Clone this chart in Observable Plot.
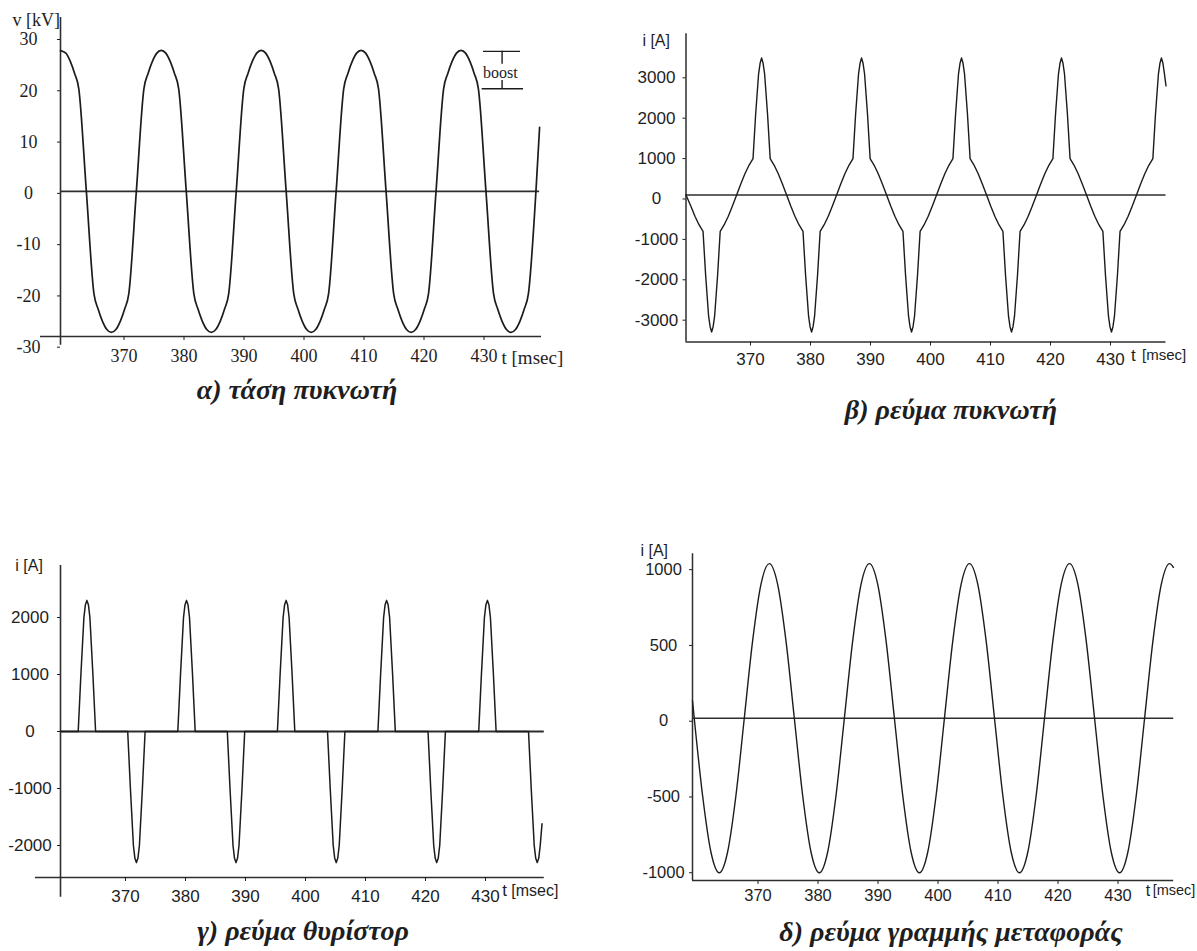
<!DOCTYPE html>
<html><head><meta charset="utf-8">
<script src="https://cdn.jsdelivr.net/npm/d3@7"></script>
<script src="https://cdn.jsdelivr.net/npm/@observablehq/plot@0.6"></script>
<style>
body{margin:0;background:#fff;}
#root{position:relative;width:1197px;height:951px;overflow:hidden;background:#fff}
.panel{position:absolute}
.cap{position:absolute;font-family:"Liberation Serif","Times New Roman",serif;font-weight:bold;font-style:italic;font-size:28px;line-height:1.1;color:#1e1e1e;white-space:nowrap;transform:translate(-50%,-50%)}
</style></head><body><div id="root"></div>
<script>
// ---------- shared ----------
const xTicks = [370, 380, 390, 400, 410, 420, 430];
const xLabel = "t [msec]";
const captions = ["α) τάση πυκνωτή", "β) ρεύμα πυκνωτή", "γ) ρεύμα θυρίστορ", "δ) ρεύμα γραμμής μεταφοράς"];
const yLabels = ["v [kV]", "i [A]", "i [A]", "i [A]"];

// ---------- (a) capacitor voltage, kV ----------
const yTicksA = [-30, -20, -10, 0, 10, 20, 30];
const tA = [360.00, 360.90, 361.65, 362.35, 363.05, 364.31,
  365.58, 366.28, 366.98, 367.73, 368.48, 369.23, 369.98, 370.68, 371.38, 372.64,
  373.90, 374.60, 375.30, 376.05, 376.80, 377.55, 378.30, 379.00, 379.70, 380.96,
  382.23, 382.93, 383.63, 384.38, 385.13, 385.88, 386.63, 387.33, 388.03, 389.29,
  390.55, 391.25, 391.95, 392.70, 393.45, 394.20, 394.95, 395.65, 396.35, 397.61,
  398.88, 399.58, 400.28, 401.03, 401.78, 402.53, 403.28, 403.98, 404.68, 405.94,
  407.20, 407.90, 408.60, 409.35, 410.10, 410.85, 411.60, 412.30, 413.00, 414.26,
  415.53, 416.23, 416.93, 417.68, 418.43, 419.18, 419.93, 420.63, 421.33, 422.59,
  423.85, 424.55, 425.25, 426.00, 426.75, 427.50, 428.25, 428.95, 429.65, 430.91,
  432.18, 432.88, 433.58, 434.33, 435.08, 435.83, 436.58, 437.28, 437.98, 439.24,
  439.85];
const vA = [27.45, 26.95, 25.3, 23.0, 20, 0,
  -20, -23.0, -25.3, -26.95, -27.5, -26.95, -25.3, -23.0, -20, 0,
  20, 23.0, 25.3, 26.95, 27.5, 26.95, 25.3, 23.0, 20, 0,
  -20, -23.0, -25.3, -26.95, -27.5, -26.95, -25.3, -23.0, -20, 0,
  20, 23.0, 25.3, 26.95, 27.5, 26.95, 25.3, 23.0, 20, 0,
  -20, -23.0, -25.3, -26.95, -27.5, -26.95, -25.3, -23.0, -20, 0,
  20, 23.0, 25.3, 26.95, 27.5, 26.95, 25.3, 23.0, 20, 0,
  -20, -23.0, -25.3, -26.95, -27.5, -26.95, -25.3, -23.0, -20, 0,
  20, 23.0, 25.3, 26.95, 27.5, 26.95, 25.3, 23.0, 20, 0,
  -20, -23.0, -25.3, -26.95, -27.5, -26.95, -25.3, -23.0, -20, 0,
  12.5];
// "boost" annotation (t range, kV levels)
const boostLevels = [27.3, 20];
const boostSpan = [[430.5, 436.67], [430.28, 437.17]];
const boostBar = [[27.3, 24.8], [21.6, 20]];
const boostX = 433.6;

// ---------- (b) capacitor current, A ----------
const yTicksB = [-3000, -2000, -1000, 0, 1000, 2000, 3000];
const tB = [360.00, 360.80, 361.49, 362.19,
  362.84, 363.27, 363.77, 364.02, 364.27, 364.52, 364.77, 365.27, 365.70,
  366.35, 367.05, 367.74, 368.44, 369.13, 369.82, 370.52,
  371.17, 371.60, 372.10, 372.35, 372.60, 372.85, 373.10, 373.60, 374.03,
  374.68, 375.38, 376.07, 376.77, 377.46, 378.15, 378.85,
  379.50, 379.93, 380.43, 380.68, 380.93, 381.18, 381.43, 381.93, 382.36,
  383.01, 383.71, 384.40, 385.10, 385.79, 386.48, 387.18,
  387.83, 388.26, 388.76, 389.01, 389.26, 389.51, 389.76, 390.26, 390.69,
  391.34, 392.04, 392.73, 393.43, 394.12, 394.81, 395.51,
  396.16, 396.59, 397.09, 397.34, 397.59, 397.84, 398.09, 398.59, 399.02,
  399.67, 400.37, 401.06, 401.76, 402.45, 403.14, 403.84,
  404.49, 404.92, 405.42, 405.67, 405.92, 406.17, 406.42, 406.92, 407.35,
  408.00, 408.70, 409.39, 410.09, 410.78, 411.47, 412.17,
  412.82, 413.25, 413.75, 414.00, 414.25, 414.50, 414.75, 415.25, 415.68,
  416.33, 417.03, 417.72, 418.42, 419.11, 419.80, 420.50,
  421.15, 421.58, 422.08, 422.33, 422.58, 422.83, 423.08, 423.58, 424.01,
  424.66, 425.36, 426.05, 426.75, 427.44, 428.13, 428.83,
  429.48, 429.91, 430.41, 430.66, 430.91, 431.16, 431.41, 431.91, 432.34,
  432.99, 433.69, 434.38, 435.08, 435.77, 436.46, 437.16,
  437.81, 438.24, 438.74, 438.99, 439.24, 439.49, 439.74, 440.00];
const iB = [0, -272, -525, -742,
  -900, -1980, -3000, -3260, -3390, -3260, -3000, -1980, -900,
  -742, -525, -272, 0, 272, 525, 742,
  900, 1980, 3000, 3260, 3390, 3260, 3000, 1980, 900,
  742, 525, 272, 0, -272, -525, -742,
  -900, -1980, -3000, -3260, -3390, -3260, -3000, -1980, -900,
  -742, -525, -272, 0, 272, 525, 742,
  900, 1980, 3000, 3260, 3390, 3260, 3000, 1980, 900,
  742, 525, 272, 0, -272, -525, -742,
  -900, -1980, -3000, -3260, -3390, -3260, -3000, -1980, -900,
  -742, -525, -272, 0, 272, 525, 742,
  900, 1980, 3000, 3260, 3390, 3260, 3000, 1980, 900,
  742, 525, 272, 0, -272, -525, -742,
  -900, -1980, -3000, -3260, -3390, -3260, -3000, -1980, -900,
  -742, -525, -272, 0, 272, 525, 742,
  900, 1980, 3000, 3260, 3390, 3260, 3000, 1980, 900,
  742, 525, 272, 0, -272, -525, -742,
  -900, -1980, -3000, -3260, -3390, -3260, -3000, -1980, -900,
  -742, -525, -272, 0, 272, 525, 742,
  900, 1980, 3000, 3260, 3390, 3260, 3000, 2700];

// ---------- (c) thyristor current, A ----------
const yTicksC = [-2000, -1000, 0, 1000, 2000];
const tC = [360.00,
  362.95, 363.40, 363.90, 364.15, 364.40, 364.65, 364.90, 365.40, 365.85,
  371.20, 371.65, 372.15, 372.40, 372.65, 372.90, 373.15, 373.65, 374.10,
  379.55, 380.00, 380.50, 380.75, 381.00, 381.25, 381.50, 382.00, 382.45,
  387.80, 388.25, 388.75, 389.00, 389.25, 389.50, 389.75, 390.25, 390.70,
  396.15, 396.60, 397.10, 397.35, 397.60, 397.85, 398.10, 398.60, 399.05,
  404.50, 404.95, 405.45, 405.70, 405.95, 406.20, 406.45, 406.95, 407.40,
  412.90, 413.35, 413.85, 414.10, 414.35, 414.60, 414.85, 415.35, 415.80,
  421.25, 421.70, 422.20, 422.45, 422.70, 422.95, 423.20, 423.70, 424.15,
  429.70, 430.15, 430.65, 430.90, 431.15, 431.40, 431.65, 432.15, 432.60,
  438.00, 438.45, 438.95, 439.20, 439.45, 439.70, 439.95, 440.25];
const iC = [0,
  0, 1000, 2000, 2225, 2300, 2225, 2000, 1000, 0,
  0, -1000, -2000, -2225, -2300, -2225, -2000, -1000, 0,
  0, 1000, 2000, 2225, 2300, 2225, 2000, 1000, 0,
  0, -1000, -2000, -2225, -2300, -2225, -2000, -1000, 0,
  0, 1000, 2000, 2225, 2300, 2225, 2000, 1000, 0,
  0, -1000, -2000, -2225, -2300, -2225, -2000, -1000, 0,
  0, 1000, 2000, 2225, 2300, 2225, 2000, 1000, 0,
  0, -1000, -2000, -2225, -2300, -2225, -2000, -1000, 0,
  0, 1000, 2000, 2225, 2300, 2225, 2000, 1000, 0,
  0, -1000, -2000, -2225, -2300, -2225, -2000, -1620];

// ---------- (d) line current, A ----------
const yTicksD = [-1000, -500, 0, 500, 1000];
const tD = [360.00, 360.29, 361.68, 363.07, 364.46, 365.85, 367.24, 368.63, 370.02, 371.41,
  372.80, 374.19, 375.58, 376.97, 378.36, 379.75, 381.14, 382.53, 383.92, 385.31,
  386.70, 388.09, 389.48, 390.87, 392.26, 393.65, 395.04, 396.43, 397.82, 399.21,
  400.60, 401.99, 403.38, 404.77, 406.16, 407.55, 408.94, 410.33, 411.72, 413.11,
  414.50, 415.89, 417.28, 418.67, 420.06, 421.45, 422.84, 424.23, 425.62, 427.01,
  428.40, 429.79, 431.18, 432.57, 433.96, 435.35, 436.74, 438.13, 439.52, 440.15];
const iD = [115, 0, -510, -883, -1020, -883, -510, 0, 510, 883,
  1020, 883, 510, 0, -510, -883, -1020, -883, -510, 0,
  510, 883, 1020, 883, 510, 0, -510, -883, -1020, -883,
  -510, 0, 510, 883, 1020, 883, 510, 0, -510, -883,
  -1020, -883, -510, 0, 510, 883, 1020, 883, 510, 0,
  -510, -883, -1020, -883, -510, 0, 510, 883, 1020, 995];

// ---------- build ----------
const zip = (ts, vs) => ts.map((t, i) => ({t, v: vs[i]}));
const ink = "#1c1c1c", axisInk = "#2e2e2e";
const fmt = d => String(d);
const root = document.getElementById("root");

function place(svg, left, top) {
  const div = document.createElement("div");
  div.className = "panel";
  div.style.left = left + "px"; div.style.top = top + "px";
  div.appendChild(svg); root.appendChild(div);
}

// panel a
place(Plot.plot({
  width: 600, height: 380, marginLeft: 60, marginRight: 60, marginTop: 17, marginBottom: 44,
  x: {domain: [360, 440]}, y: {domain: [-28.3, 33.9]},
  style: {fontFamily: "'Liberation Serif', serif", fontSize: "18px", color: "#1e1e1e", background: "transparent", overflow: "visible"},
  marks: [
    Plot.ruleX([360], {y1: -30, y2: 33.9, stroke: axisInk, strokeWidth: 1.6}),
    Plot.ruleY([-28.3], {x1: 356.67, x2: 440.17, stroke: axisInk, strokeWidth: 1.6}),
    Plot.ruleY([0], {x1: 360, x2: 439.85, stroke: axisInk, strokeWidth: 1.6}),
    Plot.axisX(xTicks, {anchor: "bottom", tickSize: 4, tickPadding: 9, dx: 3.5, label: null, tickFormat: fmt}),
    Plot.axisY(yTicksA, {anchor: "left", tickSize: 3, tickPadding: 29, textAnchor: "middle", dy: 2, label: null, tickFormat: fmt}),
    Plot.line(zip(tA, vA), {x: "t", y: "v", curve: "monotone-x", stroke: ink, strokeWidth: 1.7}),
    Plot.ruleY(boostLevels, {y: d => d, x1: (d, i) => boostSpan[i][0], x2: (d, i) => boostSpan[i][1], stroke: ink, strokeWidth: 1.4}),
    Plot.ruleX(boostBar, {x: () => boostX, y1: d => d[0], y2: d => d[1], stroke: ink, strokeWidth: 1.4}),
    Plot.text(["boost"], {x: boostX - 0.3, y: 23.1, fontSize: 16, textAnchor: "middle", lineAnchor: "middle"}),
    Plot.text([yLabels[0]], {frameAnchor: "top-left", dx: -48, dy: 2.5, textAnchor: "start", lineAnchor: "middle", fontSize: 18}),
    Plot.text([xLabel], {frameAnchor: "bottom-right", dx: -39, dy: 21, textAnchor: "start", lineAnchor: "middle", fontSize: 19})
  ]
}), 0, 0);

// panel b
place(Plot.plot({
  width: 597, height: 380, marginLeft: 85.5, marginRight: 31.5, marginTop: 33.3, marginBottom: 38.5,
  x: {domain: [360, 440]}, y: {domain: [-3639, 3990]},
  style: {fontFamily: "'Liberation Sans', sans-serif", fontSize: "17px", color: "#1e1e1e", background: "transparent", overflow: "visible"},
  marks: [
    Plot.ruleX([360], {y1: -3639, y2: 3990, stroke: axisInk, strokeWidth: 1.5}),
    Plot.ruleY([-3639], {x1: 360, x2: 440, stroke: axisInk, strokeWidth: 1.5}),
    Plot.ruleY([0], {x1: 360, x2: 440, stroke: axisInk, strokeWidth: 1.5}),
    Plot.axisX(xTicks, {anchor: "bottom", tickSize: 4, tickPadding: 7, dx: 4.5, label: null, tickFormat: fmt}),
    Plot.axisY(yTicksB, {anchor: "left", tickSize: 3, tickPadding: 26.5, textAnchor: "middle", dy: 4, label: null, tickFormat: fmt}),
    Plot.line(zip(tB, iB), {x: "t", y: "v", stroke: ink, strokeWidth: 1.4}),
    Plot.text([yLabels[1]], {frameAnchor: "top-left", dx: -43.6, dy: 6.7, textAnchor: "start", lineAnchor: "middle", fontSize: 16}),
    Plot.text([xLabel.split(" ")[0]], {frameAnchor: "bottom-right", dx: -35, dy: 14, textAnchor: "start", lineAnchor: "middle", fontSize: 17}),
    Plot.text([xLabel.split(" ")[1]], {frameAnchor: "bottom-right", dx: -24, dy: 13, textAnchor: "start", lineAnchor: "middle", fontSize: 15})
  ]
}), 600, 0);

// panel c
place(Plot.plot({
  width: 600, height: 380, marginLeft: 60, marginRight: 56.2, marginTop: 35, marginBottom: 33,
  x: {domain: [360, 440.63]}, y: {domain: [-2561, 2912]},
  style: {fontFamily: "'Liberation Sans', sans-serif", fontSize: "17px", color: "#1e1e1e", background: "transparent", overflow: "visible"},
  marks: [
    Plot.ruleX([360], {y1: -2907, y2: 2912, stroke: axisInk, strokeWidth: 1.6}),
    Plot.ruleY([-2561], {x1: 355.83, x2: 440.63, stroke: axisInk, strokeWidth: 1.6}),
    Plot.ruleY([0], {x1: 360, x2: 440.63, stroke: axisInk, strokeWidth: 1.8}),
    Plot.axisX(xTicks, {anchor: "bottom", tickSize: 4, tickPadding: 8, dx: 5, label: null, tickFormat: fmt}),
    Plot.axisY(yTicksC, {anchor: "left", tickSize: 3, tickPadding: 27.5, textAnchor: "middle", dy: 0, label: null, tickFormat: fmt}),
    Plot.line(zip(tC, iC), {x: "t", y: "v", stroke: ink, strokeWidth: 1.5}),
    Plot.text([yLabels[2]], {frameAnchor: "top-left", dx: -45.2, dy: 0.7, textAnchor: "start", lineAnchor: "middle", fontSize: 16}),
    Plot.text([xLabel.split(" ")[0]], {frameAnchor: "bottom-right", dx: -42, dy: 13, textAnchor: "start", lineAnchor: "middle", fontSize: 17}),
    Plot.text([xLabel.split(" ")[1]], {frameAnchor: "bottom-right", dx: -33, dy: 13, textAnchor: "start", lineAnchor: "middle", fontSize: 16})
  ]
}), 0, 530);

// panel d
place(Plot.plot({
  width: 597, height: 380, marginLeft: 92, marginRight: 23.8, marginTop: 23.3, marginBottom: 30,
  x: {domain: [360, 440.2]}, y: {domain: [-1071, 1085]},
  style: {fontFamily: "'Liberation Sans', sans-serif", fontSize: "16.5px", color: "#1e1e1e", background: "transparent", overflow: "visible"},
  marks: [
    Plot.ruleX([360], {y1: -1071, y2: 1085, stroke: axisInk, strokeWidth: 1.5}),
    Plot.ruleY([-1071], {x1: 360, x2: 440.2, stroke: axisInk, strokeWidth: 1.5}),
    Plot.ruleY([0], {x1: 360, x2: 440.2, stroke: axisInk, strokeWidth: 1.5}),
    Plot.axisX(xTicks, {anchor: "bottom", tickSize: 4, tickPadding: 5, dx: 5.5, label: null, tickFormat: fmt}),
    Plot.axisY(yTicksD, {anchor: "left", tickSize: 3, tickPadding: 26, textAnchor: "middle", dy: 3, label: null, tickFormat: fmt}),
    Plot.line(zip(tD, iD), {x: "t", y: "v", curve: "monotone-x", stroke: ink, strokeWidth: 1.4}),
    Plot.text([yLabels[3]], {frameAnchor: "top-left", dx: -52, dy: -3.3, textAnchor: "start", lineAnchor: "middle", fontSize: 16}),
    Plot.text([xLabel.split(" ")[0]], {frameAnchor: "bottom-right", dx: -28, dy: 10, textAnchor: "start", lineAnchor: "middle", fontSize: 16}),
    Plot.text([xLabel.split(" ")[1]], {frameAnchor: "bottom-right", dx: -21, dy: 10, textAnchor: "start", lineAnchor: "middle", fontSize: 14.5})
  ]
}), 600, 530);

// captions
const capPos = [[297, 390], [951, 410], [303, 931], [951, 932]];
captions.forEach((c, i) => {
  const d = document.createElement("div");
  d.className = "cap"; d.textContent = c;
  d.style.left = capPos[i][0] + "px"; d.style.top = capPos[i][1] + "px";
  root.appendChild(d);
});
</script>
</body></html>
